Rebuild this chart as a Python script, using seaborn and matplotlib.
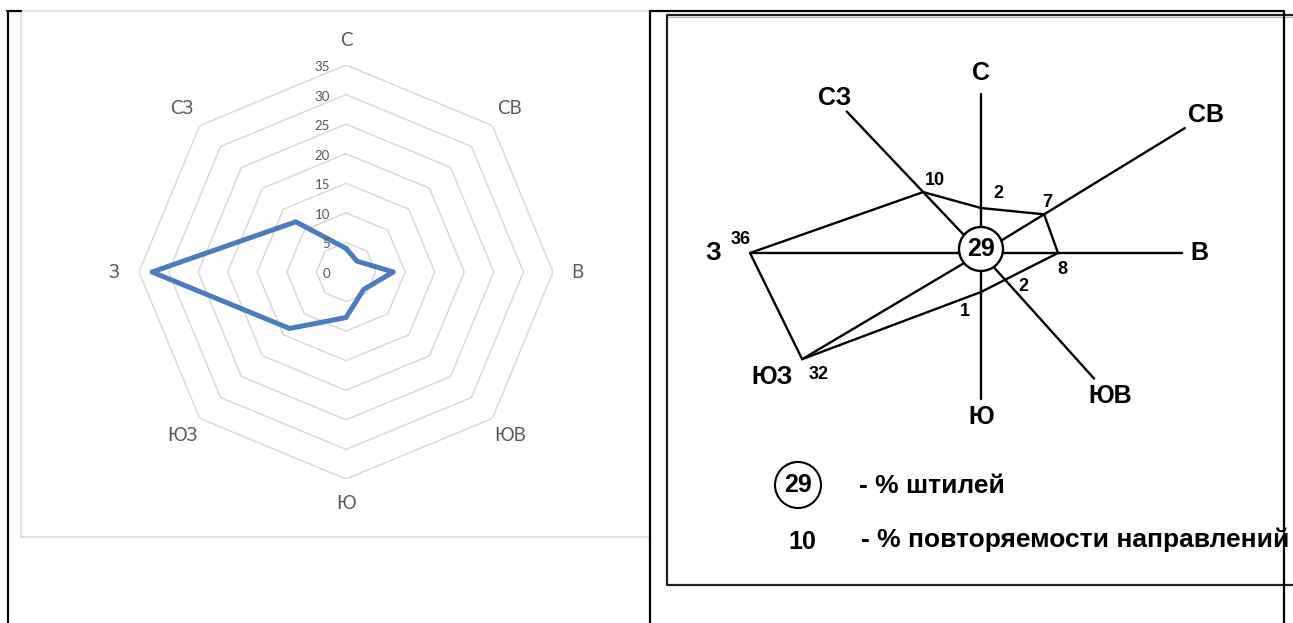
import numpy as np
import pandas as pd
import seaborn as sns
import matplotlib.pyplot as plt
from matplotlib.patches import Circle, Rectangle

# left panel: Excel radar chart
directions = ['С', 'СВ', 'В', 'ЮВ', 'Ю', 'ЮЗ', 'З', 'СЗ']
radar_values = [4, 2.6, 8, 4.2, 7.7, 13.5, 32.8, 12]
radar_ticks = [0, 5, 10, 15, 20, 25, 30, 35]

# right panel: scanned wind rose scheme
rose_values = [2, 7, 8, 2, 1, 32, 36, 10]
calm_value = 29
legend_labels = ['- % штилей', '- % повторяемости направлений']

# geometry of the hand-drawn scheme (angle in deg, lengths in px from the centre)
scheme_angle = [90, 31.5, 0, -48, -90, 210.7, 180, 133.5]
scheme_point = [45, 74, 77, 36, 39, 208, 231, 84]
scheme_axis = [159, 239, 201, 169, 146, 208, 231, 195]
scheme_label = [180, 264, 218, 193, 164, 243, 268, 213]
value_offset = [(17, 14), (3, 12), (4, -17), (18, -7), (-16, -20), (16, -15), (-9, 13), (12, 12)]

W, H = 1293, 623
sns.set_theme(style='white')
plt.rcParams['font.family'] = ['Lato', 'DejaVu Sans']
bold = dict(family=['Liberation Sans', 'DejaVu Sans'], weight='bold', color='black')

fig = plt.figure(figsize=(W / 100, H / 100), dpi=100)
fig.patch.set_facecolor('white')

# page frames, in pixel coordinates
frame = fig.add_axes([0, 0, 1, 1])
frame.set_xlim(0, W)
frame.set_ylim(H, 0)
frame.axis('off')
frame.plot([8, 8], [11, H], color='black', lw=1.6)
frame.plot([7, 21], [11, 11], color='black', lw=1.6)
frame.add_patch(Rectangle((21, 11), 629, 526, fill=False, ec='#d9d9d9', lw=1.1))
frame.plot([667, W], [17, 17], color='#b0b0b0', lw=0.8)
frame.plot([W, 667, 667, W], [15, 15, 585, 585], color='#231f1c', lw=1.6)
frame.plot([650, 650], [11, H], color='black', lw=1.6, zorder=4)
frame.plot([650, 1284], [11, 11], color='black', lw=1.6, zorder=4)
frame.plot([1284, 1284], [11, H], color='black', lw=1.6, zorder=4)

# ---- left: radar chart ----
R = 207
cxl, cyl = 346, 272
ax_l = fig.add_axes([(cxl - R) / W, (H - cyl - R) / H, 2 * R / W, 2 * R / H], projection='polar')
ax_l.set_theta_zero_location('N')
ax_l.set_theta_direction(-1)
ax_l.patch.set_alpha(0)
theta = np.deg2rad(np.arange(len(directions)) * 45)
ring_theta = np.append(theta, 2 * np.pi)
for t in radar_ticks[1:]:
    ax_l.plot(ring_theta, [t] * len(ring_theta), color='#d9d9d9', lw=1.1, zorder=1)

df = pd.DataFrame({'theta': ring_theta, 'value': radar_values + radar_values[:1]})
sns.lineplot(data=df, x='theta', y='value', sort=False, estimator=None, ax=ax_l,
             color='#4a7dbf', lw=3.6, solid_joinstyle='round', zorder=3)
ax_l.set_ylim(0, 35)
ax_l.set_xticks([])
ax_l.set_yticks([])
ax_l.grid(False)
ax_l.spines['polar'].set_visible(False)
ax_l.set_xlabel('')
ax_l.set_ylabel('')
for t in radar_ticks:
    ax_l.annotate(str(t), xy=(0, t), xytext=(-16, -2), textcoords='offset pixels',
                  ha='right', va='center', fontsize=9.5, color='#595959')
for th, d in zip(theta, directions):
    ax_l.text(th, 39.2, d, ha='center', va='center', fontsize=13.5, color='#595959')

# ---- right: wind rose scheme ----
cx, cy = 981, 253
ax_r = fig.add_axes([650 / W, 0, (W - 650) / W, 1])
ax_r.set_xlim(650 - cx, W - cx)
ax_r.set_ylim(cy - H, cy)
ax_r.axis('off')

ang = np.deg2rad(scheme_angle)
px = np.array(scheme_point) * np.cos(ang)
py = np.array(scheme_point) * np.sin(ang)
ex = np.array(scheme_axis) * np.cos(ang)
ey = np.array(scheme_axis) * np.sin(ang)

for x1, y1 in zip(ex, ey):
    ax_r.plot([0, x1], [0, y1], color='black', lw=1.7, zorder=2)

poly = pd.DataFrame({'x': np.append(px, px[0]), 'y': np.append(py, py[0])})
sns.lineplot(data=poly, x='x', y='y', sort=False, estimator=None, ax=ax_r,
             color='black', lw=1.7, zorder=2)
ax_r.set_xlabel('')
ax_r.set_ylabel('')

ax_r.add_patch(Circle((0, 4), 22, fc='white', ec='black', lw=1.7, zorder=5))
ax_r.text(0, 4, str(calm_value), ha='center', va='center', fontsize=18, zorder=6, **bold)

for a, L, d in zip(ang, scheme_label, directions):
    ax_r.text(L * np.cos(a), L * np.sin(a), d, ha='center', va='center', fontsize=18, **bold)

for x0, y0, v, off in zip(px, py, rose_values, value_offset):
    ax_r.annotate(str(v), xy=(x0, y0), xytext=off, textcoords='offset pixels',
                  ha='center', va='center', fontsize=13, **bold)

# legend
ax_r.add_patch(Circle((-183, -232), 23, fc='white', ec='black', lw=1.5))
ax_r.text(-183, -232, str(calm_value), ha='center', va='center', fontsize=18, **bold)
ax_r.text(-122, -233, legend_labels[0], ha='left', va='center', fontsize=19, **bold)
ax_r.text(-179, -289, str(rose_values[-1]), ha='center', va='center', fontsize=18, **bold)
ax_r.text(-120, -287, legend_labels[1], ha='left', va='center', fontsize=19, **bold)

fig.savefig('out.png', dpi=100)
